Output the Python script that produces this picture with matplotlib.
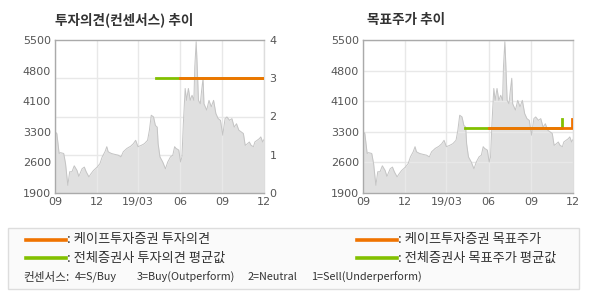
import matplotlib
matplotlib.use("Agg")
import matplotlib.pyplot as plt
from matplotlib.patches import Rectangle
import pandas as pd

plt.rcParams['font.family'] = ['Noto Sans CJK KR', 'DejaVu Sans']

# ---- data ----
price_dates = ["2018-09-01","2018-09-05","2018-09-10","2018-09-13","2018-09-20","2018-09-24","2018-09-27",
               "2018-09-29","2018-10-03","2018-10-08","2018-10-13","2018-10-19","2018-10-23","2018-10-30",
               "2018-11-04","2018-11-08","2018-11-14","2018-11-19","2018-11-24","2018-12-02","2018-12-08",
               "2018-12-13","2018-12-19","2018-12-23","2018-12-26","2019-01-02","2019-01-09","2019-01-17",
               "2019-01-23","2019-01-28","2019-02-05","2019-02-13","2019-02-19","2019-02-24","2019-03-01",
               "2019-03-08","2019-03-15","2019-03-22","2019-03-26","2019-03-30","2019-04-04","2019-04-08",
               "2019-04-12","2019-04-14","2019-04-18","2019-04-24","2019-04-30","2019-05-05","2019-05-11",
               "2019-05-16","2019-05-20","2019-05-23","2019-05-29","2019-06-02","2019-06-05","2019-06-08",
               "2019-06-12","2019-06-15","2019-06-19","2019-06-23","2019-06-27","2019-07-01","2019-07-03",
               "2019-07-06","2019-07-08","2019-07-11","2019-07-15","2019-07-18","2019-07-21","2019-07-23",
               "2019-07-29","2019-08-03","2019-08-08","2019-08-13","2019-08-18","2019-08-23","2019-08-28",
               "2019-09-02","2019-09-07","2019-09-11","2019-09-17","2019-09-22","2019-09-27","2019-10-02",
               "2019-10-07","2019-10-12","2019-10-17","2019-10-21","2019-10-26","2019-10-30","2019-11-03",
               "2019-11-08","2019-11-11","2019-11-16","2019-11-21","2019-11-24","2019-11-28","2019-12-01"]
price_values = [3340,3300,2830,2850,2830,2590,2280,2080,2400,2400,2540,2430,2290,2470,
                2510,2400,2280,2360,2430,2510,2590,2750,2870,2990,2870,2830,2810,2790,
                2750,2870,2950,3000,3060,3140,2990,3020,3060,3140,3380,3730,3690,3490,
                3450,3060,2750,2630,2470,2630,2750,2790,2990,2950,2910,2630,2750,3530,
                4360,4080,4360,4080,4200,4080,4870,5460,4950,4080,4000,4320,4600,4000,
                3850,4080,3930,4080,3770,3650,3610,3260,3650,3690,3610,3650,3450,3530,
                3380,3340,3300,3020,3060,3100,3020,2990,3100,3140,3180,3220,3100,3160]

opinion_avg_dates = ["2019-04-10", "2019-12-01"]
opinion_avg_values = [3, 3]
opinion_firm_dates = ["2019-06-01", "2019-12-01"]
opinion_firm_values = [3, 3]

target_avg_dates = ["2019-04-10", "2019-11-08", "2019-11-08"]
target_avg_values = [3440, 3440, 3650]
target_firm_dates = ["2019-06-01", "2019-11-28", "2019-11-28"]
target_firm_values = [3440, 3440, 3650]

x_tick_dates = ["2018-09-01", "2018-12-01", "2019-03-01", "2019-06-01", "2019-09-01", "2019-12-01"]
x_tick_labels = ["09", "12", "19/03", "06", "09", "12"]
price_ticks = [1900, 2620, 3340, 4060, 4780, 5500]
price_tick_labels = ["1900", "2600", "3300", "4100", "4800", "5500"]
opinion_ticks = [0, 1, 2, 3, 4]

ORANGE = "#f07300"
GREEN = "#82c000"
FILL = "#e0e0e0"
EDGE = "#c4c4c4"
GRID = "#e8e8e8"
SPINE = "#aaaaaa"
TXT = "#555555"

pdates = pd.to_datetime(price_dates)
xt = pd.to_datetime(x_tick_dates)
xmin, xmax = pd.Timestamp("2018-09-01"), pd.Timestamp("2019-12-01")

fig = plt.figure(figsize=(5.9, 3.0), dpi=100)
fig.patch.set_facecolor("white")

def base_axes(rect):
    ax = fig.add_axes(rect)
    ax.fill_between(pdates, price_values, 1900, color=FILL, lw=0, zorder=1)
    ax.plot(pdates, price_values, color=EDGE, lw=0.7, zorder=2)
    ax.set_xlim(xmin, xmax)
    ax.set_ylim(1900, 5500)
    ax.set_xticks(xt)
    ax.set_xticklabels(x_tick_labels)
    ax.set_yticks(price_ticks)
    ax.set_yticklabels(price_tick_labels)
    ax.tick_params(length=0, labelsize=8, colors=TXT, pad=3)
    for lab in ax.get_xticklabels() + ax.get_yticklabels():
        lab.set_family(['DejaVu Sans'])
    ax.grid(axis='x', color=GRID, lw=1, zorder=0)
    for s in ax.spines.values():
        s.set_color(SPINE)
        s.set_linewidth(1)
    ax.spines['right'].set_color("#dddddd")
    return ax

# left panel
axL = base_axes([55/590, 1-193/300, 209/590, 153/300])
axR2 = axL.twinx()
axR2.set_ylim(0, 4)
axR2.set_yticks(opinion_ticks)
axR2.tick_params(length=0, labelsize=8, colors=TXT, pad=4)
for lab in axR2.get_yticklabels():
    lab.set_family(['DejaVu Sans'])
for s in axR2.spines.values():
    s.set_visible(False)
axR2.plot(pd.to_datetime(opinion_avg_dates), opinion_avg_values, color=GREEN, lw=2, zorder=3)
axR2.plot(pd.to_datetime(opinion_firm_dates), opinion_firm_values, color=ORANGE, lw=2, zorder=4)
axR2.patch.set_visible(False)
for v in opinion_ticks[1:-1]:
    axL.axhline(1900 + v * 900, color=GRID, lw=1, zorder=0.5)

# right panel
axP = base_axes([363/590, 1-193/300, 210/590, 153/300])
axP.grid(axis='y', color=GRID, lw=1, zorder=0)
axP.plot(pd.to_datetime(target_avg_dates), target_avg_values, color=GREEN, lw=2, zorder=3)
axP.plot(pd.to_datetime(target_firm_dates), target_firm_values, color=ORANGE, lw=2, zorder=4)

# titles
fig.text(55/590, 1-20/300, "투자의견(컨센서스) 추이", fontsize=9.8, fontweight='bold', color="#333333",
         va='center', ha='left')
fig.text(367/590, 1-20/300, "목표주가 추이", fontsize=9.8, fontweight='bold', color="#333333",
         va='center', ha='left')

# legend box
fig.patches.append(Rectangle((8/590, 1-289/300), 571/590, 61/300, transform=fig.transFigure,
                             facecolor="#fafafa", edgecolor="#dddddd", lw=1, zorder=0))

def leg_line(x0, x1, y, color):
    fig.add_artist(plt.Line2D([x0/590, x1/590], [1-y/300, 1-y/300], color=color, lw=2.6,
                              transform=fig.transFigure))

leg_line(26, 66, 240, ORANGE)
leg_line(26, 66, 258, GREEN)
leg_line(357, 397, 240, ORANGE)
leg_line(357, 397, 258, GREEN)
fs = 9.5
fig.text(67/590, 1-240/300, ": 케이프투자증권 투자의견", fontsize=fs, color="#333333", va='center')
fig.text(67/590, 1-258/300, ": 전체증권사 투자의견 평균값", fontsize=fs, color="#333333", va='center')
fig.text(398/590, 1-240/300, ": 케이프투자증권 목표주가", fontsize=fs, color="#333333", va='center')
fig.text(398/590, 1-258/300, ": 전체증권사 목표주가 평균값", fontsize=fs, color="#333333", va='center')
fs2 = 7.8
fig.text(23/590, 1-277/300, "컨센서스:", fontsize=8.4, color="#333333", va='center')
fig.text(75/590, 1-277/300, "4=S/Buy", fontsize=fs2, color="#333333", va='center')
fig.text(137/590, 1-277/300, "3=Buy(Outperform)", fontsize=fs2, color="#333333", va='center')
fig.text(248/590, 1-277/300, "2=Neutral", fontsize=fs2, color="#333333", va='center')
fig.text(311/590, 1-277/300, "1=Sell(Underperform)", fontsize=fs2, color="#333333", va='center')

fig.savefig("out.png", dpi=100, facecolor="white")
